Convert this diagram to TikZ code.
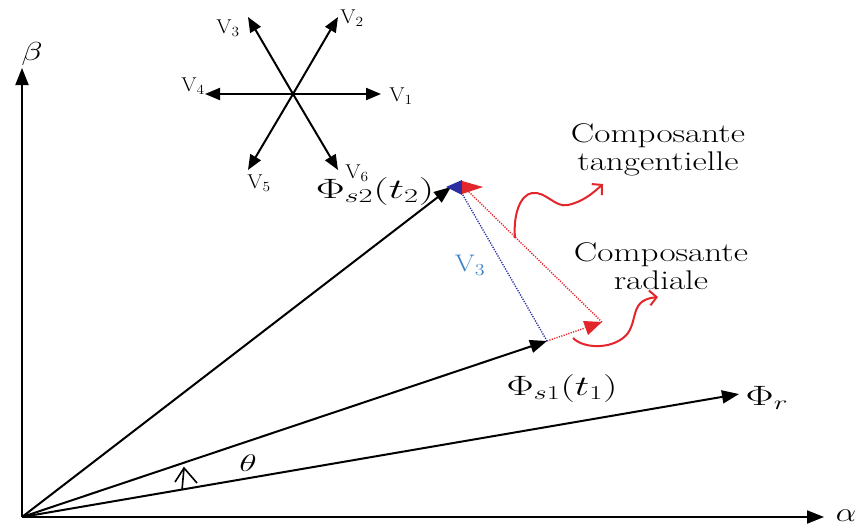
\RequirePackage{fix-cm}
\documentclass[tikz,border=0pt]{standalone}
\usepackage{graphicx}
\usetikzlibrary{arrows.meta}
\definecolor{myred}{HTML}{E2262B}
\definecolor{myblue}{HTML}{2B2FA0}
\definecolor{lblue}{HTML}{3C83C6}
\newcommand{\hs}[2][1.3]{\scalebox{#1}[1]{#2}}
\begin{document}
\begin{tikzpicture}[x=1pt,y=-1pt,
 vec/.style={line width=2pt, -{Triangle[length=17pt,width=13pt]}},
 sv/.style={line width=2pt, -{Triangle[length=15pt,width=12pt]}},
 dotb/.style={myblue, line width=1.4pt, dash pattern=on 1.2pt off 1.3pt},
 dotr/.style={myred, line width=1.4pt, dash pattern=on 1.2pt off 1.3pt},
 squig/.style={myred, line width=2pt, -{Straight Barb[length=7pt,width=15pt]}},
 txt/.style={font=\fontsize{27}{28.5}\selectfont, align=center, inner sep=0pt},
 mth/.style={font=\fontsize{28}{32}\selectfont, inner sep=0pt},
 vl/.style={font=\fontsize{20}{22}\selectfont, inner sep=0pt},
]
\useasboundingbox (0,0) rectangle (861,527);
% axes
\coordinate (O) at (22,517);
\coordinate (B) at (22,68);
\coordinate (A) at (824,517);
\draw[vec] (O) -- (B);
\draw[vec] (O) -- (A);
\node[inner sep=0pt, font=\fontsize{26}{30}\selectfont] (lb) at (32,54) {\hs[1.35]{$\beta$}};
\node[inner sep=0pt, font=\fontsize{27}{30}\selectfont] (la) at (846,516) {\hs[1.2]{$\alpha$}};
% main vectors
\coordinate (R) at (739,394);
\coordinate (S1) at (547,341);
\coordinate (S2) at (451,187);
\draw[vec] (O) -- (R);
\draw[vec] (O) -- (S1);
\draw[vec] (O) -- (S2);
\node[mth] (lR) at (767,398) {\hs[1.5]{$\Phi_r$}};
\node[mth] (lS1) at (562,388) {\hs[1.45]{$\Phi_{s1}(t_1)$}};
\node[mth] (lS2) at (375,191) {\hs[1.55]{$\Phi_{s2}(t_2)$}};
% theta
\node[inner sep=0pt, font=\fontsize{24}{28}\selectfont] (lth) at (248,463) {\hs[1.5]{$\theta$}};
\coordinate (th1) at (182,490);
\coordinate (th2) at (184,468);
\draw[line width=1.6pt] (th1) -- (th2);
\draw[line width=1.6pt] (175,482) -- (th2) -- (197,483);
% components
\coordinate (Rad) at (602,322);
\coordinate (Tb) at (460,190);
\coordinate (Tr) at (467,190);
\draw[dotb] (S1) -- (Tb);
\draw[dotr] (S1) -- (585,328);
\fill[myred] (Rad) -- (583,321) -- (588,335) -- cycle;
\draw[dotr] (Rad) -- (Tr);
\fill[myblue] (446,187) -- (462,180) -- (462,195) -- cycle;
\fill[myred] (483,187) -- (462,181) -- (462,194) -- cycle;
\node[font=\fontsize{24}{26}\selectfont, text=lblue, inner sep=0pt] (lv3) at (470,265) {\hs[1.2]{$\mathrm{V}_3$}};
% squiggles
\coordinate (q1s) at (515,238);
\coordinate (q1e) at (603,184);
\draw[squig] (q1s) .. controls (513,215) and (520,195) .. (532,193)
  .. controls (546,191) and (555,208) .. (568,205)
  .. controls (582,202) and (592,194) .. (q1e);
\coordinate (q2s) at (573,338);
\coordinate (q2e) at (658,297);
\draw[squig] (q2s) .. controls (585,350) and (616,349) .. (628,333)
  .. controls (638,318) and (630,300) .. (q2e);
\node[txt] (tl) at (658,150) {\hs{Composante}\\\hs{tangentielle}};
\node[txt] (rl) at (661,266) {\hs{Composante}\\\hs{radiale}};
% voltage star
\coordinate (C) at (293,94);
\coordinate (P1) at (381,94);
\coordinate (P2) at (338,17);
\coordinate (P3) at (248,17);
\coordinate (P4) at (205,94);
\coordinate (P5) at (248,170);
\coordinate (P6) at (338,170);
\foreach \p in {P1,P2,P3,P4,P5,P6} \draw[sv] (C) -- (\p);
\node[vl] (v1) at (401,96) {\hs[1.1]{$\mathrm{V}_1$}};
\node[vl] (v2) at (352,18) {\hs[1.1]{$\mathrm{V}_2$}};
\node[vl] (v3) at (228,28) {\hs[1.1]{$\mathrm{V}_3$}};
\node[vl] (v4) at (193,86) {\hs[1.1]{$\mathrm{V}_4$}};
\node[vl] (v5) at (259,183) {\hs[1.1]{$\mathrm{V}_5$}};
\node[vl] (v6) at (357,173) {\hs[1.1]{$\mathrm{V}_6$}};
\end{tikzpicture}
\end{document}
